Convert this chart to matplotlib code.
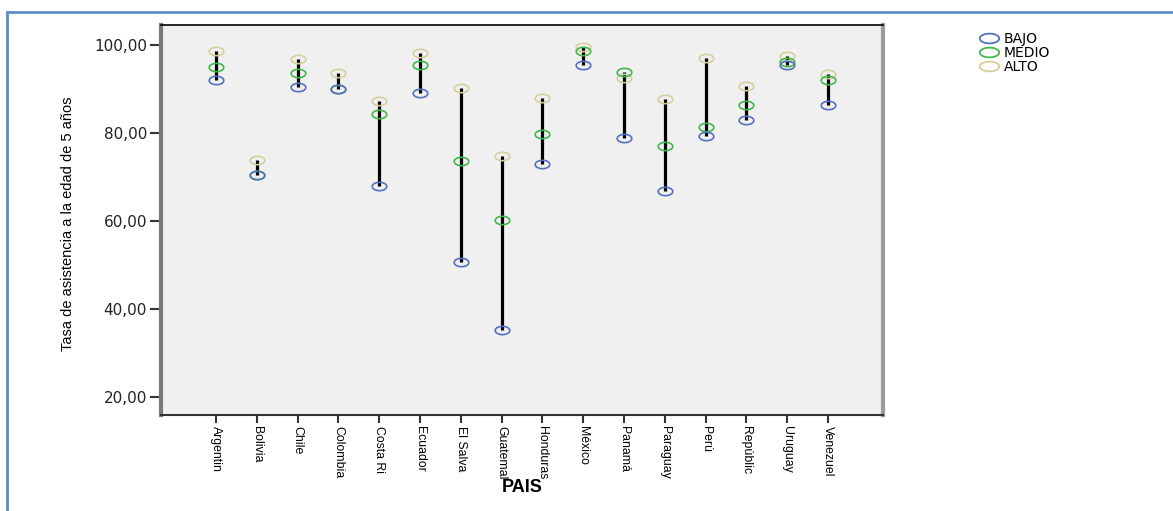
import numpy as np
import matplotlib.pyplot as plt
from matplotlib.lines import Line2D
from matplotlib.patches import Rectangle

# Tasa de asistencia a los 5 años por país y nivel socioeconómico
paises = ['Argentin', 'Bolivia', 'Chile', 'Colombia', 'Costa Ri', 'Ecuador',
          'El Salva', 'Guatemal', 'Honduras', 'México', 'Panamá', 'Paraguay',
          'Perú', 'Repúblic', 'Uruguay', 'Venezuel']
bajo = [92.0, 70.4, 90.4, 90.0, 68.0, 89.1, 50.7, 35.2,
        73.0, 95.5, 78.8, 66.7, 79.2, 83.0, 95.5, 86.4]
medio = [94.9, 70.4, 93.6, 90.0, 84.2, 95.4, 73.5, 60.2,
         79.7, 98.6, 93.9, 77.0, 81.4, 86.4, 96.1, 91.9]
alto = [98.5, 73.8, 96.7, 93.7, 87.3, 98.2, 90.2, 74.8,
        88.0, 99.6, 92.4, 87.7, 97.0, 90.7, 97.5, 93.4]
y_ticks = [20, 40, 60, 80, 100]

col_bajo = '#5470c0'
col_medio = '#40b84a'
col_alto = '#d6cf9c'

# marcadores elipticos (circulos achatados)
t = np.linspace(0, 2 * np.pi, 60)
elipse = np.column_stack([1.75 * np.cos(t), np.sin(t)])
elipse_ley = np.column_stack([2.0 * np.cos(t), np.sin(t)])

fuente = 'Liberation Sans'

fig = plt.figure(figsize=(11.73, 5.11), dpi=100)
ax = fig.add_axes([161 / 1173, 96 / 511, 722 / 1173, 390 / 511])
ax.set_facecolor('#f0f0f0')

x = np.arange(len(paises))
lo = np.minimum(np.minimum(bajo, medio), alto)
hi = np.maximum(np.maximum(bajo, medio), alto)
ax.vlines(x, lo, hi, color='black', lw=2.3, zorder=2)

for vals, c in [(alto, col_alto), (medio, col_medio), (bajo, col_bajo)]:
    ax.plot(x, vals, ls='none', marker=elipse, ms=10.5, mfc='none', mec=c,
            mew=1.2, zorder=3)

ax.set_xlim(-1.35, len(paises) - 1 + 1.35)
ax.set_ylim(15.9, 104.5)
ax.set_yticks(y_ticks)
ax.set_yticklabels([('%.2f' % v).replace('.', ',') for v in y_ticks],
                   family='DejaVu Sans', fontsize=11, color='#222222')
ax.set_ylabel('Tasa de asistencia a la edad de 5 años', family=fuente,
              fontsize=10.5)
ax.yaxis.set_label_coords(-0.119, 0.49)

ax.set_xticks(x)
ax.set_xticklabels(paises, rotation=270, family=fuente, fontsize=8.8,
                   va='top', ha='center')
ax.set_xlabel('PAIS', fontsize=13, fontweight='bold', family=fuente,
              va='center')
ax.xaxis.set_label_coords(0.5, -(487 - 415) / 390)

ax.tick_params(axis='y', length=8, width=1.5, color='#333333', pad=2)
ax.tick_params(axis='x', length=6, width=1.5, color='#333333', pad=2)

ax.spines['left'].set_color('#7a7a7a')
ax.spines['left'].set_linewidth(3)
ax.spines['right'].set_color('#9a9a9a')
ax.spines['right'].set_linewidth(3)
ax.spines['top'].set_color('black')
ax.spines['top'].set_linewidth(1.2)
ax.spines['bottom'].set_color('#333333')
ax.spines['bottom'].set_linewidth(1.5)

handles = [Line2D([], [], ls='none', marker=elipse_ley, ms=14, mfc='none',
                  mec=c, mew=1.3) for c in (col_bajo, col_medio, col_alto)]
fig.legend(handles, ['BAJO', 'MEDIO', 'ALTO'], loc='upper left',
           bbox_to_anchor=(972 / 1173, 1 - 25 / 511), frameon=False,
           handlelength=1.4, handletextpad=0.4, labelspacing=0.0,
           borderpad=0, prop={'family': 'DejaVu Sans', 'size': 10})

# marco azul exterior
fig.patches.append(Rectangle((7 / 1173, -0.1), 1.2, 1 - 12 / 511 + 0.1,
                             transform=fig.transFigure, fill=False,
                             ec='#5b8fcc', lw=2))

fig.savefig('out.png', dpi=100)
